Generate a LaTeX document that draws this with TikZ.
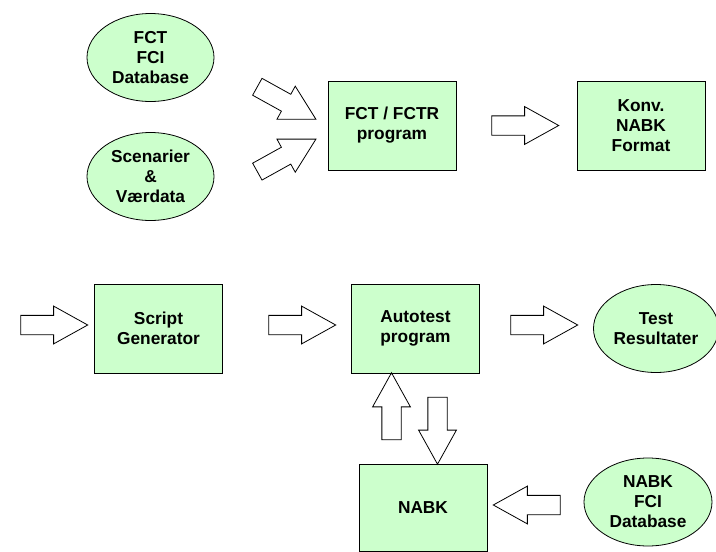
\documentclass[tikz,border=0pt]{standalone}
\usepackage{fontspec}
\setmainfont{Liberation Sans}
\usetikzlibrary{positioning}
\usetikzlibrary{shapes,arrows,shapes.geometric,shapes.arrows,calc}
\definecolor{lysgron}{RGB}{204,255,204}
\tikzset{
    % Define standard block arrow
    pil/.style={
           single arrow,
           draw=black,
           fill=white,
           line width=0.8pt,
           minimum height=67pt,
           inner xsep=0pt,
           inner ysep=9.25pt,
           single arrow head extend=9.25pt,
           single arrow tip angle=58,}
}
\newcommand{\boxwidth}{128pt}
\newcommand{\boxheight}{89pt}
\newcommand{\boxfont}{\fontsize{17.3}{20}\selectfont\bfseries}

\begin{document}
\begin{tikzpicture}[x=1pt, y=1pt, node distance=0pt, outer sep=0pt]
\tikzstyle{blok}=[ draw=black,
                  rectangle, line width=0.8pt,
                  minimum height=\boxheight, minimum width=\boxwidth,
                  fill=lysgron,
                  align=center, font=\boxfont]
\tikzstyle{elip}=[ draw=black,
                  ellipse, line width=0.8pt, inner sep=0pt,
                  minimum height=88pt, minimum width=127pt,
                  fill=lysgron,
                  align=center, font=\boxfont]

\useasboundingbox (0,0) rectangle (716,-552);

% upper part
\node[elip] (fctdb) at (150.5,-57.5)       {FCT\\FCI\\Database};
\node[elip] (scen)  [below = 31pt of fctdb] {Scenarier\\\&\\Værdata};
\node[blok] (fct)   at (392,-125.5)         {FCT / FCTR\\program};
\node[blok] (konv)  [right = 121pt of fct]  {Konv.\\NABK\\Format};

\node[pil, rotate=-29] (pdb)   at (279,-98.8)  {};
\node[pil, rotate=29]  (pscen) at (279,-159.6) {};
\node[pil] (pkonv) at ($(fct.east)!0.5!(konv.west)$) {};

% lower part
\node[blok] (script) at (158.5,-328.5)           {Script\\Generator};
\node[blok] (auto)   [right = 129pt of script]    {Autotest\\program};
\node[elip, minimum width=125pt] (res) [right = 114pt of auto] {Test\\Resultater};
\node[blok, minimum height=87pt] (nabk) [below = 91pt of auto, xshift=7.5pt] {NABK};
\node[elip, minimum width=128pt] (nabkdb) at (648,-502) {NABK\\FCI\\Database};

\node[pil] (pin)     at (45.5,-325)  {};
\node[pil] (pscript) at (293.5,-325) {};
\node[pil] (pres)    at (535.5,-325) {};
\node[pil, rotate=90]  (pop) at (391.5,-415) {};
\node[pil, rotate=-90] (pned) at (437.5,-422) {};
\node[pil, rotate=180] (pnabk) at (535.5,-505) {};

\end{tikzpicture}
\end{document}
